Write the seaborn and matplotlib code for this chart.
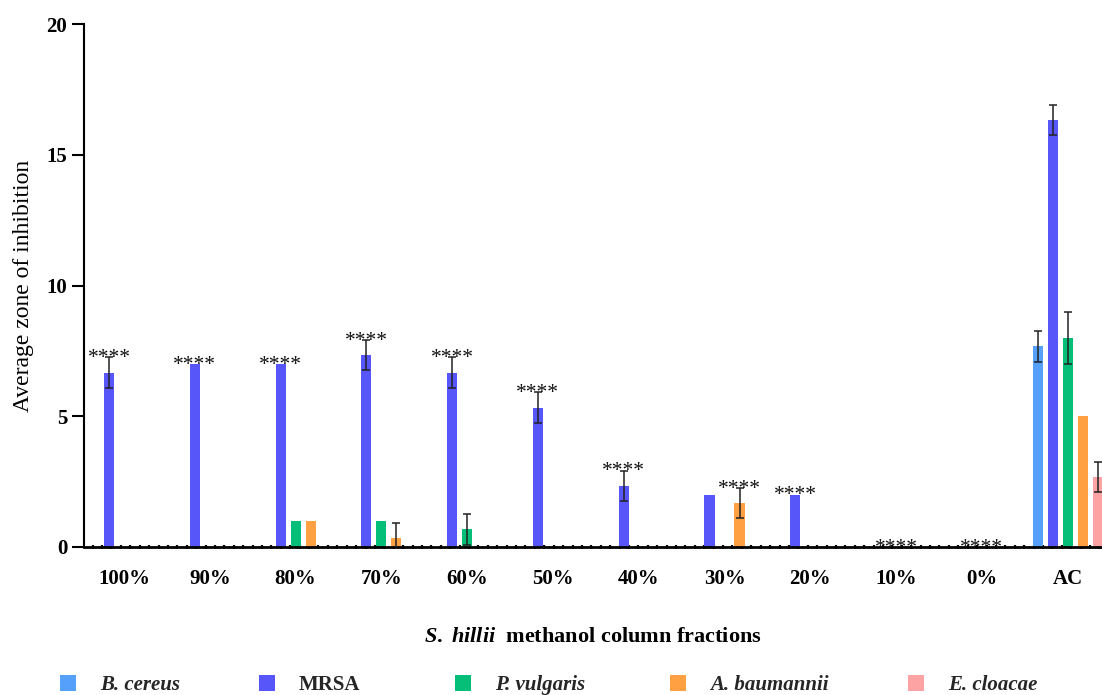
import numpy as np
import pandas as pd
import matplotlib
matplotlib.use("Agg")
import matplotlib.pyplot as plt
import seaborn as sns
from matplotlib.patches import Patch
from matplotlib.ticker import FixedLocator

# ---------------- data ----------------
fractions = ["100%", "90%", "80%", "70%", "60%", "50%", "40%", "30%", "20%", "10%", "0%", "AC"]
organisms = ["B. cereus", "MRSA", "P. vulgaris", "A. baumannii", "E. cloacae"]

b_cereus    = [0, 0, 0, 0, 0, 0, 0, 0, 0, 0, 0, 7.67]
mrsa        = [6.67, 7.0, 7.0, 7.33, 6.67, 5.33, 2.33, 2.0, 2.0, 0, 0, 16.33]
p_vulgaris  = [0, 0, 1.0, 1.0, 0.67, 0, 0, 0, 0, 0, 0, 8.0]
a_baumannii = [0, 0, 1.0, 0.33, 0, 0, 0, 1.67, 0, 0, 0, 5.0]
e_cloacae   = [0, 0, 0, 0, 0, 0, 0, 0, 0, 0, 0, 2.67]

sd_b_cereus    = [0, 0, 0, 0, 0, 0, 0, 0, 0, 0, 0, 0.58]
sd_mrsa        = [0.58, 0, 0, 0.58, 0.58, 0.58, 0.58, 0, 0, 0, 0, 0.58]
sd_p_vulgaris  = [0, 0, 0, 0, 0.58, 0, 0, 0, 0, 0, 0, 1.0]
sd_a_baumannii = [0, 0, 0, 0.58, 0, 0, 0, 0.58, 0, 0, 0, 0]
sd_e_cloacae   = [0, 0, 0, 0, 0, 0, 0, 0, 0, 0, 0, 0.58]

# series above which the "****" significance marks are drawn (one per fraction)
star_series = ["MRSA", "MRSA", "MRSA", "MRSA", "MRSA", "MRSA", "MRSA",
               "A. baumannii", "MRSA", "P. vulgaris", "P. vulgaris", ""]
star_text = "****"

colors = ["#55A0FB", "#5757F9", "#05BF78", "#FFA043", "#FDA3A3"]

values = [b_cereus, mrsa, p_vulgaris, a_baumannii, e_cloacae]
sds = [sd_b_cereus, sd_mrsa, sd_p_vulgaris, sd_a_baumannii, sd_e_cloacae]

rows = []
for org, vals in zip(organisms, values):
    for f, v in zip(fractions, vals):
        rows.append({"fraction": f, "organism": org, "value": v})
df = pd.DataFrame(rows)

# ---------------- style ----------------
sns.set_theme(style="ticks")
plt.rcParams["font.family"] = ["Liberation Serif", "DejaVu Serif"]
plt.rcParams["mathtext.fontset"] = "custom"
plt.rcParams["mathtext.it"] = "Liberation Serif:italic:bold"
plt.rcParams["mathtext.rm"] = "Liberation Serif:bold"

fig = plt.figure(figsize=(11.02, 6.95), dpi=100)
ax = fig.add_axes([84 / 1102, 1 - 547 / 695, 1 - 84 / 1102, (547 - 24) / 695])

sns.barplot(data=df, x="fraction", y="value", hue="organism",
            order=fractions, hue_order=organisms, palette=colors,
            saturation=1, width=0.874, gap=0.33, errorbar=None, linewidth=0,
            legend=False, ax=ax)

# error bars and significance marks
bar_pos = {}
for container, org, vals, errs in zip(ax.containers, organisms, values, sds):
    for i, (bar, v, e) in enumerate(zip(container, vals, errs)):
        x = bar.get_x() + bar.get_width() / 2
        bar_pos[(org, i)] = (x, v + e)
        if e > 0:
            ax.errorbar(x, v, yerr=e, fmt="none", ecolor="#222222",
                        elinewidth=1.1, capsize=3, capthick=1.1, zorder=4)

for i, org in enumerate(star_series):
    if not org:
        continue
    x, top = bar_pos[(org, i)]
    ax.annotate(star_text, (x, top), xytext=(0, -4), textcoords="offset points",
                ha="center", va="baseline", fontsize=15.5, color="#111111",
                zorder=5)

# axes
ax.set_ylim(0, 20)
ax.set_xlim(-0.466, 11.40)
ax.set_yticks([0, 5, 10, 15, 20])
for s in ["top", "right"]:
    ax.spines[s].set_visible(False)
ax.spines["left"].set_linewidth(1.5)
ax.spines["bottom"].set_linewidth(2)
ax.spines["left"].set_color("black")
ax.spines["bottom"].set_color("black")

ax.tick_params(axis="y", length=9, width=1.5, color="black", labelsize=15, pad=3)
ax.tick_params(axis="x", which="major", length=0, labelsize=15, pad=16)
step = 9.41 / 85.8
ax.xaxis.set_minor_locator(FixedLocator(np.arange(-0.365, 11.40, step)))
ax.tick_params(axis="x", which="minor", length=3.5, width=1.6, direction="inout", color="black")
for lab in ax.get_xticklabels() + ax.get_yticklabels():
    lab.set_fontweight("bold")
    lab.set_color("black")

ax.set_ylabel("Average zone of inhibition", fontsize=17, fontweight="normal",
              color="black", labelpad=9)
ax.set_xlabel(r"$\it{S.\ hillii}$  methanol column fractions", fontsize=16,
              fontweight="bold", color="black", labelpad=27)

# legend entries placed along the bottom
legend_x = [60 / 1102, 259 / 1102, 455 / 1102, 670 / 1102, 908 / 1102]
for org, c, lx in zip(organisms, colors, legend_x):
    leg = fig.legend(handles=[Patch(facecolor=c, edgecolor="none")], labels=[org],
                     loc="center left", bbox_to_anchor=(lx, 1 - 685 / 695),
                     frameon=False, handlelength=0.77, handleheight=0.77,
                     handletextpad=1.15, borderpad=0, borderaxespad=0,
                     prop={"family": "Liberation Serif", "weight": "bold",
                           "size": 15, "style": "normal" if org == "MRSA" else "italic"})

fig.savefig("out.png", dpi=100)
